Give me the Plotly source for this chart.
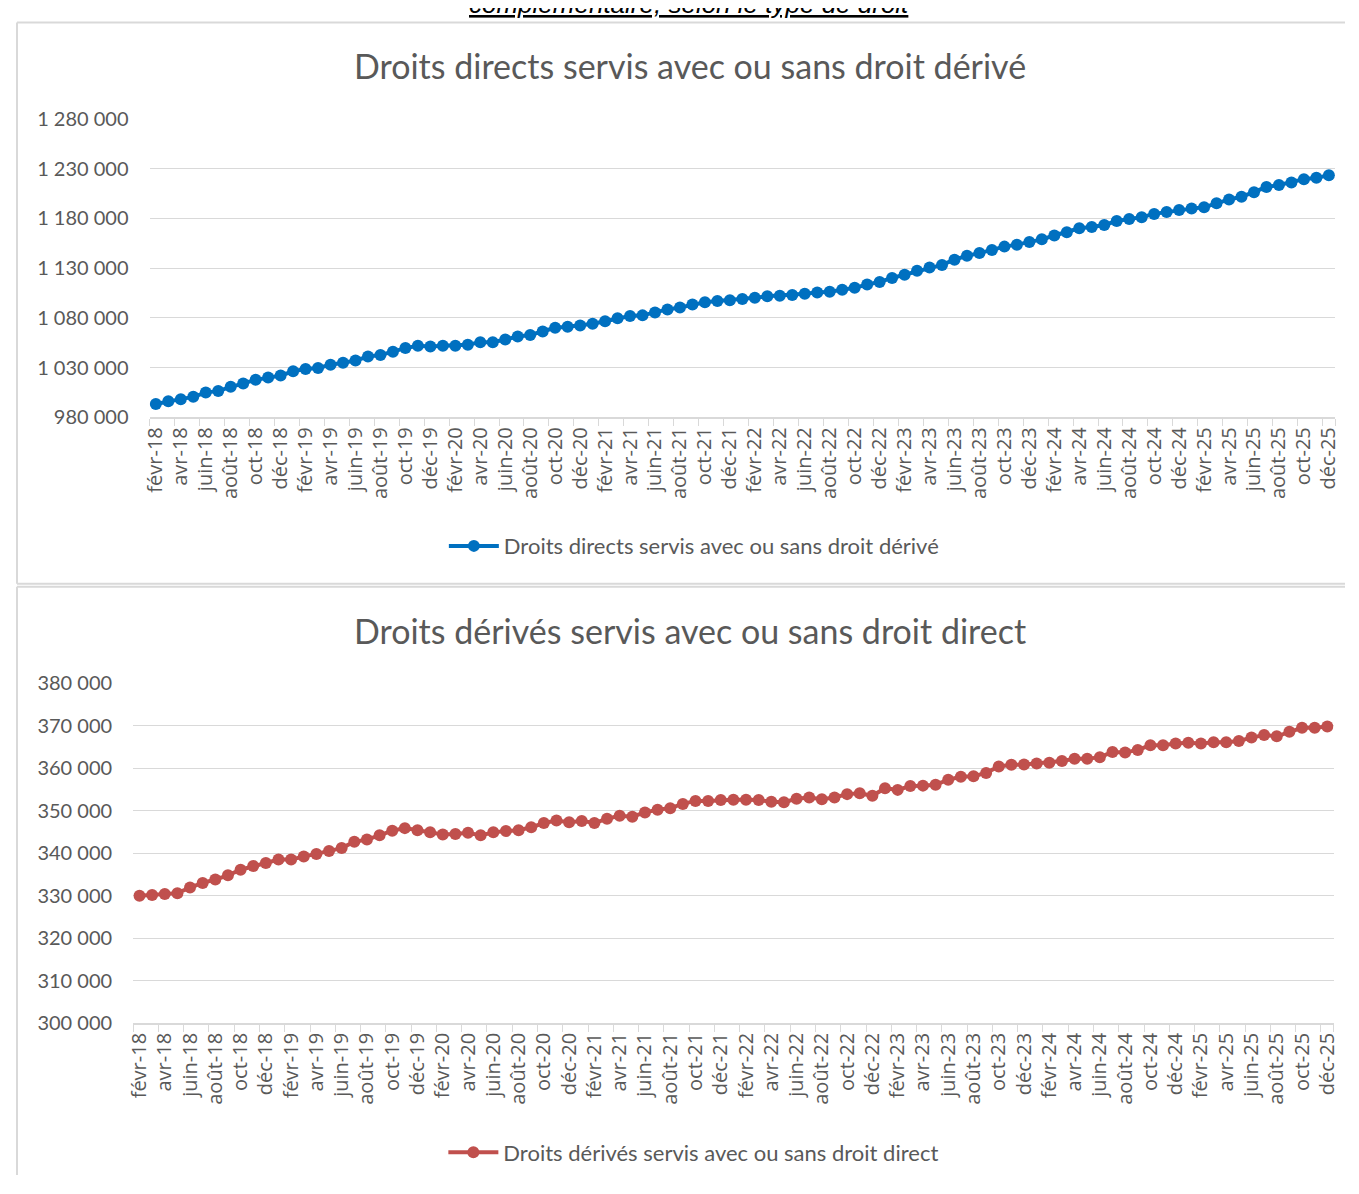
import plotly.graph_objects as go

# ---- categories ----
month_names = ["janv", "févr", "mars", "avr", "mai", "juin", "juil", "août", "sept", "oct", "nov", "déc"]
years = ["18", "19", "20", "21", "22", "23", "24", "25"]
months = [f"{m}-{y}" for y in years for m in month_names][1:]  # févr-18 .. déc-25

# ---- series values ----
droits_directs = [
    993500, 996400, 998400, 1000700, 1005000, 1006700, 1010900, 1014200, 1017800, 1020100,
    1022100, 1026400, 1028700, 1029700, 1033000, 1035000, 1037200, 1041200, 1042800, 1046100,
    1049700, 1052000, 1051400, 1052000, 1052000, 1053000, 1055700, 1055700, 1058300, 1061300,
    1062900, 1066500, 1070100, 1071100, 1072400, 1074100, 1076700, 1079700, 1082000, 1082600,
    1085600, 1088600, 1090500, 1093500, 1095800, 1097000, 1097800, 1099100, 1100400, 1101700,
    1102400, 1103000, 1104400, 1105700, 1106300, 1108300, 1110300, 1113600, 1116200, 1120200,
    1123400, 1127400, 1130700, 1133300, 1138600, 1142500, 1145200, 1148400, 1151700, 1153700,
    1156300, 1159000, 1162900, 1166200, 1170200, 1171500, 1173500, 1177400, 1179400, 1181300,
    1184600, 1186600, 1188600, 1189900, 1191200, 1195200, 1199100, 1201800, 1206400, 1211600,
    1213600, 1216200, 1219500, 1220800, 1223500,
]
droits_derives = [
    330000, 330150, 330400, 330600, 331900, 333000, 333800, 334800, 336100, 337000,
    337700, 338500, 338500, 339200, 339800, 340500, 341200, 342700, 343200, 344200,
    345300, 345900, 345400, 344900, 344400, 344500, 344800, 344200, 344900, 345200,
    345400, 346100, 347100, 347700, 347300, 347600, 347100, 348100, 348800, 348600,
    349600, 350200, 350600, 351600, 352300, 352300, 352500, 352600, 352600, 352500,
    352100, 352000, 352800, 353100, 352700, 353100, 353900, 354100, 353500, 355300,
    354900, 355800, 355900, 356100, 357300, 358000, 358100, 358900, 360400, 360800,
    360900, 361100, 361300, 361700, 362200, 362200, 362600, 363800, 363700, 364300,
    365400, 365400, 365800, 366000, 365800, 366100, 366100, 366400, 367200, 367800,
    367500, 368600, 369500, 369500, 369800,
]

name_directs = "Droits directs servis avec ou sans droit dérivé"
name_derives = "Droits dérivés servis avec ou sans droit direct"
heading = "complémentaire, selon le type de droit"

# page is 1359x1194; the body keeps its default 8px margin
M = 8
W, H = 1359 - 2 * M, 1194 - 2 * M
GRAY = "#595959"
GRID = "#d9d9d9"
BLUE = "#0070C0"
RED = "#C0504D"
FONT = "Lato"

def fx(p):
    return (p - M) / W

def fy(p):
    return (H - (p - M)) / H

fig = go.Figure()
fig.add_trace(go.Scatter(
    x=months, y=droits_directs, name=name_directs, mode="lines+markers",
    line=dict(color=BLUE, width=4), marker=dict(color=BLUE, size=12),
    xaxis="x", yaxis="y", legend="legend",
))
fig.add_trace(go.Scatter(
    x=months, y=droits_derives, name=name_derives, mode="lines+markers",
    line=dict(color=RED, width=4), marker=dict(color=RED, size=12),
    xaxis="x2", yaxis="y2", legend="legend2",
))

tickvals = months[::2]
xcommon = dict(
    type="category", tickmode="array", tickvals=tickvals, ticktext=tickvals,
    tickangle=-90, tickson="boundaries", ticks="outside", ticklen=7, tickcolor=GRID,
    showline=True, linecolor=GRID, linewidth=1.5, showgrid=False,
    tickfont=dict(family="Open Sans", size=20, color=GRAY),
    range=[-0.5, len(months) - 0.5], fixedrange=True,
)
ycommon = dict(
    showgrid=True, gridcolor=GRID, gridwidth=1.3, zeroline=False, showline=False,
    tickformat=",.0f", tickfont=dict(family=FONT, size=20, color=GRAY),
    ticks="", ticklabelstandoff=20, fixedrange=True,
)

fig.update_layout(
    width=W, height=H, autosize=False,
    margin=dict(l=0, r=0, t=0, b=0),
    paper_bgcolor="white", plot_bgcolor="white",
    separators=", ",
    xaxis=dict(domain=[fx(143), fx(1341)], anchor="y", **xcommon),
    yaxis=dict(domain=[fy(412.7), fy(108)], anchor="x", range=[980000, 1280000],
               tick0=980000, dtick=50000, **ycommon),
    xaxis2=dict(domain=[fx(126.4), fx(1339.5)], anchor="y2", **xcommon),
    yaxis2=dict(domain=[fy(1031), fy(684)], anchor="x2", range=[300000, 380000],
                tick0=300000, dtick=10000, **ycommon),
    legend=dict(x=fx(693), y=fy(544), xanchor="center", yanchor="middle",
                orientation="h", itemwidth=50,
                font=dict(family=FONT, size=22, color=GRAY), bgcolor="rgba(0,0,0,0)"),
    legend2=dict(x=fx(693), y=fy(1163), xanchor="center", yanchor="middle",
                 orientation="h", itemwidth=50,
                 font=dict(family=FONT, size=22, color=GRAY), bgcolor="rgba(0,0,0,0)"),
    showlegend=True,
)

# chart frames (kept inside the figure; their right edges lie beyond the page)
frame = dict(type="line", xref="paper", yref="paper", line=dict(color=GRID, width=2), layer="below")
fig.add_shape(x0=fx(9), x1=1, y0=fy(9.5), y1=fy(9.5), **frame)
fig.add_shape(x0=fx(9), x1=1, y0=fy(582.5), y1=fy(582.5), **frame)
fig.add_shape(x0=fx(9), x1=fx(9), y0=fy(582.5), y1=fy(9.5), **frame)
fig.add_shape(x0=fx(9), x1=1, y0=fy(585.5), y1=fy(585.5), **frame)
fig.add_shape(x0=fx(9), x1=fx(9), y0=0, y1=fy(585.5), **frame)

# titles
fig.add_annotation(text=name_directs, xref="paper", yref="paper", x=fx(689), y=fy(53),
                   xanchor="center", yanchor="middle", showarrow=False,
                   font=dict(family=FONT, size=34, color=GRAY))
fig.add_annotation(text=name_derives, xref="paper", yref="paper", x=fx(689), y=fy(630),
                   xanchor="center", yanchor="middle", showarrow=False,
                   font=dict(family=FONT, size=34, color=GRAY))
# heading cut off at the top of the page, as in the source screenshot
fig.add_annotation(text=f"<i><u>{heading}</u></i>", xref="paper", yref="paper",
                   x=fx(689), y=fy(6.5), xanchor="center", yanchor="bottom", showarrow=False,
                   font=dict(family="Liberation Sans", size=26, color="black"), borderpad=0)

fig.write_html("out.html", config={"displayModeBar": False})
